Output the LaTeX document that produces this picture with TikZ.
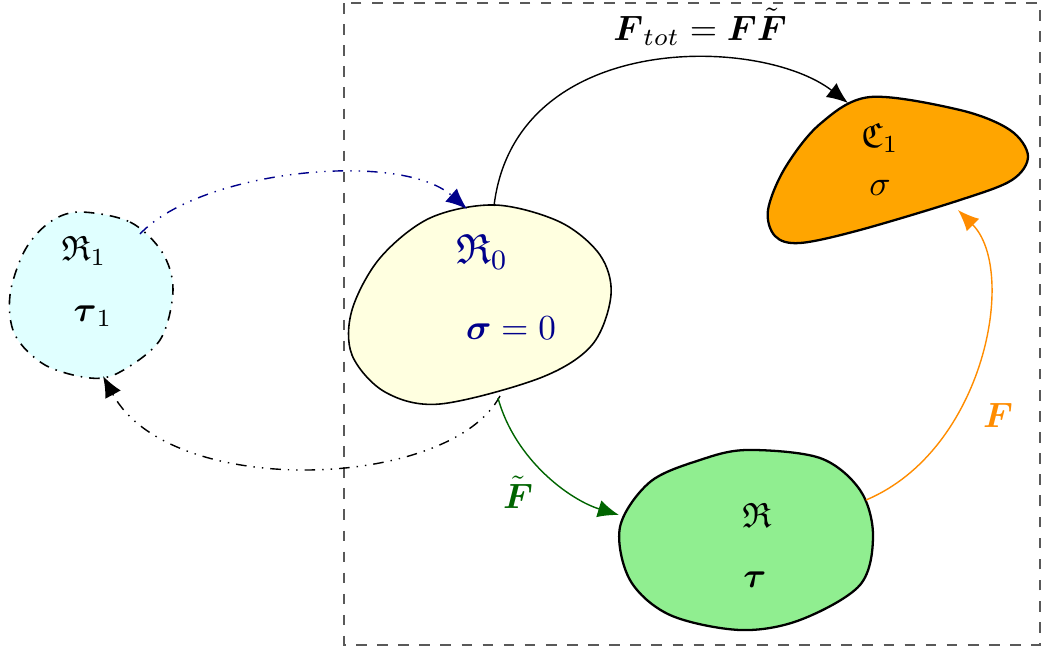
\documentclass[tikz,border=0pt]{standalone}
\usepackage{amsmath,amssymb}
\usetikzlibrary{arrows.meta}
\definecolor{dkblue}{RGB}{0,0,139}
\definecolor{dkgreen}{RGB}{0,100,0}
\definecolor{dkorange}{RGB}{255,140,0}
\definecolor{lcyan}{RGB}{224,255,255}
\definecolor{lyellow}{RGB}{255,255,224}
\definecolor{lgreen}{RGB}{144,238,144}
\definecolor{orng}{RGB}{255,165,0}
\tikzset{
  blob/.style={draw=black, line width=0.45pt},
  conn/.style={-{Latex[length=6pt,width=5pt]}, line width=0.4pt},
}
\begin{document}
\begin{tikzpicture}[x=0.01cm,y=-0.01cm]
\useasboundingbox (0,0) rectangle (1044,654);
% frame
\draw[dashed, gray!70!black, line width=0.45pt] (344,3) rectangle (1040,645);
% blobs
\draw[blob, dash dot, fill=lcyan] plot[smooth cycle, tension=0.55] coordinates
  {(80,212) (130,222) (162,252) (173,290) (160,340) (120,372) (90,378) (45,365) (15,335) (10,295) (25,250) (50,222)};
\draw[blob, fill=lyellow] plot[smooth cycle, tension=0.55] coordinates
  {(495,205) (560,222) (600,255) (611,295) (592,345) (540,378) (440,404) (385,392) (352,355) (352,310) (380,258) (430,218)};
\draw[blob, line width=0.65pt, fill=orng] plot[smooth cycle, tension=0.55] coordinates
  {(870,97) (960,110) (1010,130) (1028,156) (1012,180) (960,200) (860,230) (800,243) (775,236) (768,210) (785,168) (820,124)};
\draw[blob, line width=0.65pt, fill=lgreen] plot[smooth cycle, tension=0.55] coordinates
  {(747,450) (820,458) (860,490) (873,535) (860,585) (800,620) (740,630) (670,615) (630,580) (620,527) (650,482) (700,460)};
% texts
\node (r1) at (84,251) {$\mathfrak{R}_1$};
\node (t1) at (93,316) {$\boldsymbol{\tau}_1$};
\node[text=dkblue, font=\large] (r0) at (482,252) {$\mathfrak{R}_0$};
\node[text=dkblue] (s0) at (511,328) {$\boldsymbol{\sigma}=0$};
\node (c1) at (880,138) {$\mathfrak{C}_1$};
\node (sg) at (880,188) {$\sigma$};
\node (rr) at (757,515) {$\mathfrak{R}$};
\node (tt) at (755,580) {$\boldsymbol{\tau}$};
% connector end points on the blob boundaries
\coordinate (r0top) at (494,206);
\coordinate (r0topl) at (467,209);
\coordinate (r0bot) at (500,396);
\coordinate (r0botg) at (498,398);
\coordinate (c1tl) at (848,103);
\coordinate (c1bot) at (958,210);
\coordinate (r1tr) at (140,234);
\coordinate (r1bot) at (103,376);
\coordinate (rl) at (619,515);
\coordinate (rr1) at (866,500);
% connectors
\draw[conn] (r0top) .. controls (515,30) and (760,35) .. (c1tl);
\node (ftot) at (700,27) {$\boldsymbol{F}_{tot}=\boldsymbol{F}\tilde{\boldsymbol{F}}$};
\draw[conn, dkblue, dash dot dot] (r1tr) .. controls (200,170) and (400,150) .. (r0topl);
\draw[conn, dash dot dot] (r0bot) .. controls (450,490) and (170,500) .. (r1bot);
\draw[conn, dkgreen] (r0botg) .. controls (515,460) and (570,500) .. (rl);
\node[text=dkgreen] (ftl) at (518,492) {$\tilde{\boldsymbol{F}}$};
\draw[conn, dkorange] (rr1) .. controls (985,450) and (1018,270) .. (c1bot);
\node[text=dkorange] (fl) at (998,415) {$\boldsymbol{F}$};
\end{tikzpicture}
\end{document}
